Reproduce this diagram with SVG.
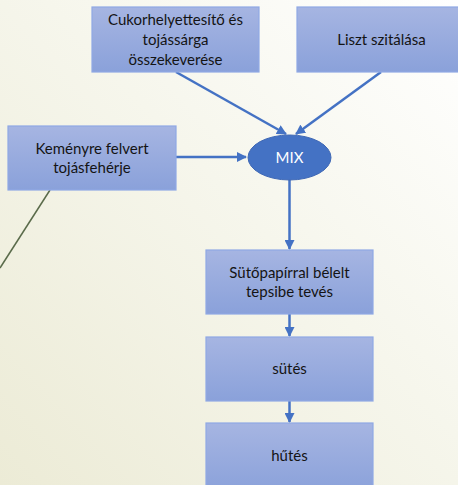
<svg xmlns="http://www.w3.org/2000/svg" width="458" height="485" viewBox="0 0 458 485">
  <defs>
    <linearGradient id="bg" x1="0" y1="1" x2="1" y2="0">
      <stop offset="0" stop-color="#ECEBD6"/>
      <stop offset="0.55" stop-color="#F6F6EC"/>
      <stop offset="1" stop-color="#FFFFFF"/>
    </linearGradient>
    <linearGradient id="boxFill" x1="0" y1="0" x2="0" y2="1">
      <stop offset="0" stop-color="#A6B5E2"/>
      <stop offset="1" stop-color="#8AA1DA"/>
    </linearGradient>
    <marker id="arrow" viewBox="0 0 10 10" refX="9" refY="5" markerWidth="4" markerHeight="4" orient="auto" markerUnits="strokeWidth">
      <path d="M0,0 L10,5 L0,10 z" fill="#4472C4"/>
    </marker>
    <style>
      .box { fill: url(#boxFill); stroke: #8FA8E4; stroke-width: 1.2; }
      .lbl { font-family: Lato, "Liberation Sans", sans-serif; font-size: 15px; fill: #141414; text-anchor: middle; }
      .mix { font-family: Lato, "Liberation Sans", sans-serif; font-size: 15px; fill: #FFFFFF; text-anchor: middle; }
      .conn { stroke: #4472C4; stroke-width: 2.5; fill: none; marker-end: url(#arrow); }
    </style>
  </defs>

  <rect x="0" y="0" width="458" height="485" fill="url(#bg)"/>
  <!-- decorative slide line -->
  <line x1="50" y1="190" x2="0" y2="268" stroke="#5A6B4A" stroke-width="1.5"/>

  <g id="connectors">
    <line class="conn" x1="176" y1="72" x2="286" y2="134"/>
    <line class="conn" x1="381" y1="72" x2="296" y2="134"/>
    <line class="conn" x1="176" y1="157" x2="246" y2="157"/>
    <line class="conn" x1="289.5" y1="180" x2="289.5" y2="249"/>
    <line class="conn" x1="289.5" y1="314" x2="289.5" y2="336"/>
    <line class="conn" x1="289.5" y1="401" x2="289.5" y2="422"/>
  </g>

  <g id="cukor">
    <rect class="box" x="92" y="7" width="167" height="65"/>
    <text class="lbl" x="175.5" y="25">Cukorhelyettesítő és</text>
    <text class="lbl" x="175.5" y="45">tojássárga</text>
    <text class="lbl" x="175.5" y="65">összekeverése</text>
  </g>

  <g id="liszt">
    <rect class="box" x="297" y="7" width="167" height="65"/>
    <text class="lbl" x="381.5" y="45">Liszt szitálása</text>
  </g>

  <g id="tojasfeherje">
    <rect class="box" x="8" y="126" width="168" height="64"/>
    <text class="lbl" x="92" y="154">Keményre felvert</text>
    <text class="lbl" x="92" y="173">tojásfehérje</text>
  </g>

  <g id="mix">
    <ellipse cx="289.5" cy="157.5" rx="41.5" ry="22.5" fill="#4472C4" stroke="#3F68B5" stroke-width="1"/>
    <text class="mix" x="289.5" y="163">MIX</text>
  </g>

  <g id="tepsi">
    <rect class="box" x="206" y="250" width="167" height="64"/>
    <text class="lbl" x="289.5" y="278">Sütőpapírral bélelt</text>
    <text class="lbl" x="289.5" y="297">tepsibe tevés</text>
  </g>

  <g id="sutes">
    <rect class="box" x="206" y="337" width="167" height="64"/>
    <text class="lbl" x="289.5" y="374">sütés</text>
  </g>

  <g id="hutes">
    <rect class="box" x="206" y="423" width="167" height="70"/>
    <text class="lbl" x="289.5" y="461">hűtés</text>
  </g>
</svg>
